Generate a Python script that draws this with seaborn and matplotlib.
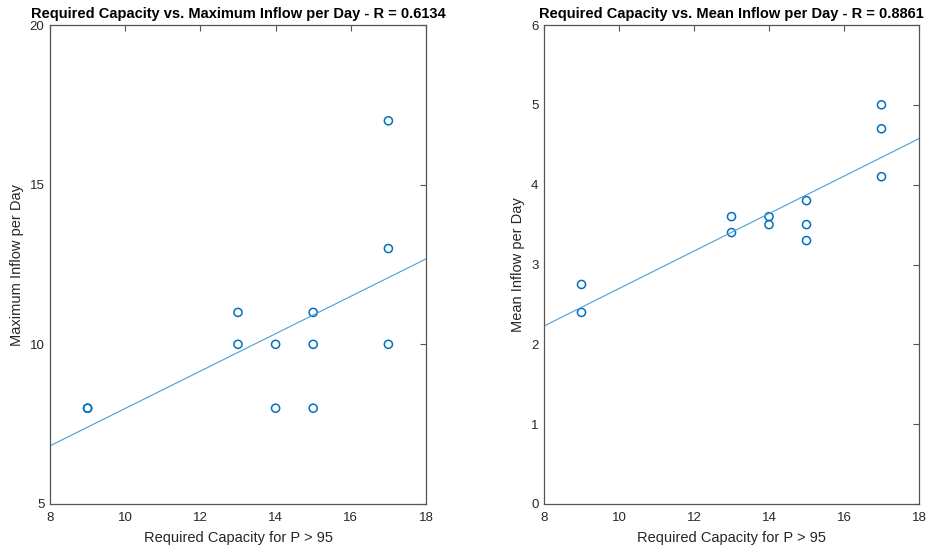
import numpy as np
import pandas as pd
import matplotlib
matplotlib.use("Agg")
import matplotlib.pyplot as plt
import seaborn as sns

capacity = [9, 9, 13, 13, 14, 14, 15, 15, 15, 17, 17, 17]
max_inflow = [8, 8, 11, 10, 10, 8, 11, 10, 8, 17, 13, 10]
mean_inflow = [2.75, 2.4, 3.6, 3.4, 3.6, 3.5, 3.8, 3.5, 3.3, 5.0, 4.7, 4.1]

titles = ["Required Capacity vs. Maximum Inflow per Day - R = 0.6134",
          "Required Capacity vs. Mean Inflow per Day - R = 0.8861"]
ylabels = ["Maximum Inflow per Day", "Mean Inflow per Day"]
xlabel = "Required Capacity for P > 95"

sns.set_theme(style="white")
plt.rcParams['font.family'] = ['Liberation Sans', 'DejaVu Sans']

df = pd.DataFrame({"cap": capacity, "maxin": max_inflow, "meanin": mean_inflow})

fig = plt.figure(figsize=(9.29, 5.48), dpi=100)
ax1 = fig.add_axes([50/929, 1-504/548, 376/929, 479/548])
ax2 = fig.add_axes([544/929, 1-504/548, 375/929, 479/548])

marker_col = "#0072BD"
line_col = "#4A9FD8"
edge = "#555555"

for ax, col, title, ylab, ylim, yticks in [
    (ax1, "maxin", titles[0], ylabels[0], (5, 20), [5, 10, 15, 20]),
    (ax2, "meanin", titles[1], ylabels[1], (0, 6), [0, 1, 2, 3, 4, 5, 6]),
]:
    sns.scatterplot(data=df, x="cap", y=col, ax=ax, marker="o", s=34,
                    facecolor="none", edgecolor=marker_col, linewidth=1.1)
    slope, intercept = np.polyfit(df["cap"], df[col], 1)
    xs = np.array([8, 18])
    sns.lineplot(x=xs, y=slope * xs + intercept, ax=ax, color=line_col, linewidth=0.8)
    ax.set_xlim(8, 18)
    ax.set_ylim(*ylim)
    ax.set_xticks([8, 10, 12, 14, 16, 18])
    ax.set_yticks(yticks)
    ax.tick_params(direction="in", length=4, color=edge, labelcolor="#262626",
                   labelsize=9.5, width=0.8, top=True, right=True,
                   labeltop=False, labelright=False)
    ax.tick_params(axis="x", pad=6)
    ax.tick_params(axis="y", pad=4)
    for sp in ax.spines.values():
        sp.set_color(edge)
        sp.set_linewidth(0.9)
    ax.set_xlabel(xlabel, fontsize=10.5, color="#262626", labelpad=5)
    ax.set_ylabel(ylab, fontsize=10.5, color="#262626", labelpad=4)
    ax.set_title(title, fontsize=10.5, fontweight="bold", color="black", pad=5)

fig.savefig("out.png", dpi=100, facecolor="white")
